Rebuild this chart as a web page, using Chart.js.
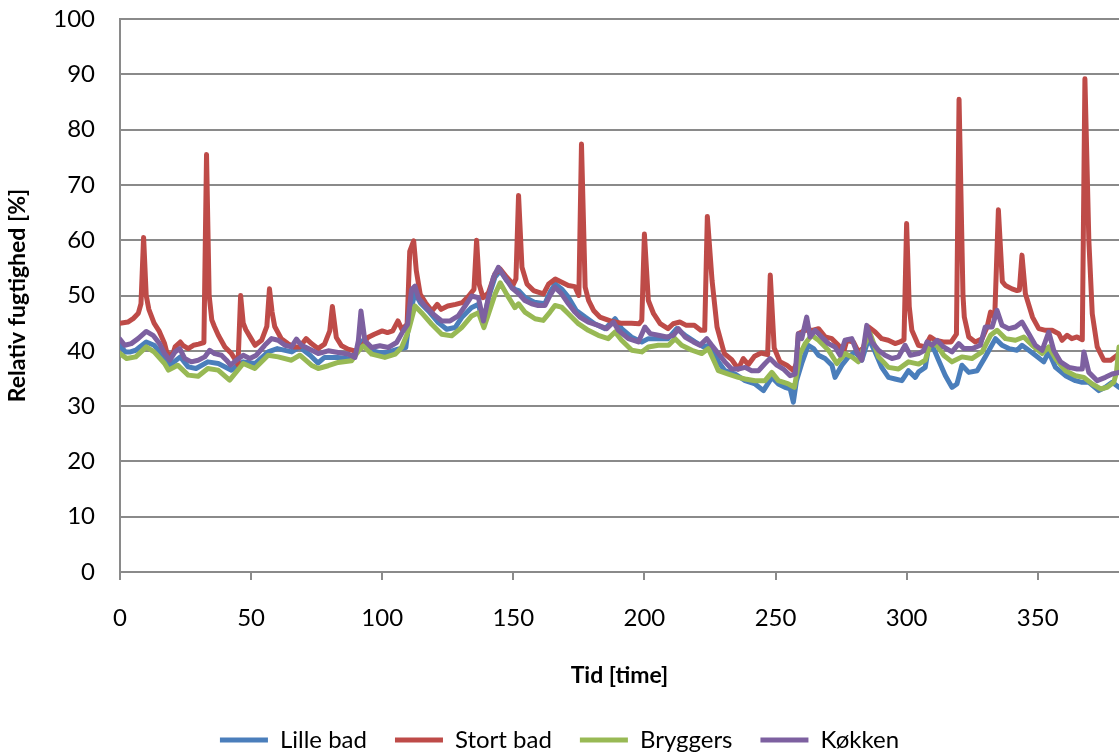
<!DOCTYPE html>
<html>
<head>
<meta charset="utf-8">
<script src="https://cdn.jsdelivr.net/npm/chart.js@4/dist/chart.umd.min.js"></script>
<style>
  html, body { margin: 0; padding: 0; background: #fff; }
</style>
</head>
<body>
<canvas id="chart" width="1119" height="756"></canvas>
<script>
// Relativ fugtighed, readings as [time, %]
const lilleBad = [[0,41],[2,39.8],[4,39.8],[6,40.1],[10,41.6],[13,41],[17,38.9],[19,37.4],[23,38.9],[26,37.1],[29,36.8],[33.5,38],[37.5,37.7],[42.5,36.5],[47,38],[51.5,37.7],[56.5,39.8],[60,40.4],[65.5,39.8],[68.5,40.7],[72.5,39.2],[75.5,37.8],[78,38.8],[83,38.8],[88,38.5],[91,40.6],[92.5,41.8],[94.5,40.3],[98.5,39.7],[102,39.7],[106,40.3],[109,40.6],[110.6,46.6],[112.5,50.5],[114.5,48.7],[117.6,47.2],[121.4,45.1],[124.6,43.9],[127.8,44.2],[130.3,46],[134,47.8],[136.7,48.4],[138.6,44.8],[140.5,49.6],[143,53.3],[145,54.5],[147.5,52.7],[150.6,51.1],[152,50.9],[154.4,49.7],[158,48.8],[162,48.5],[164,50.6],[166,52.1],[168.4,51.2],[171,49.7],[174,47.3],[177.4,46.1],[181,44.9],[185,44],[188.8,45.8],[191.3,44],[195,42.5],[199,41.6],[201.5,42.2],[205.3,42.2],[209,42.2],[212.3,44],[215.5,42.8],[219.3,41.6],[222.5,40.7],[224.4,41],[227,39.5],[228.2,38],[230.7,36.4],[234.6,35.8],[238.4,34.6],[242.2,34],[245.4,32.8],[248.6,35.2],[251.1,34],[253.6,33.4],[255.6,33.1],[256.8,30.7],[258,34.6],[260,37.7],[262.5,41],[264.5,40.4],[266.4,39.2],[268.9,38.6],[271.5,37.4],[272.7,35.2],[275.3,37.4],[277.8,38.9],[280.4,39.8],[282.9,38.3],[285.5,42.2],[288,39.8],[290.5,37],[293.1,35.2],[295.6,34.9],[298.2,34.6],[300.7,36.4],[303.3,35.2],[304.6,36.2],[307.1,37],[308.4,40.7],[310.3,40.4],[312.2,38.3],[314.8,35.5],[317.3,33.4],[319.2,34],[321.1,37.4],[323.7,36.1],[326.9,36.4],[330,38.9],[333.9,42.2],[336.4,41],[339,40.4],[342.1,40.1],[344,41],[346.6,40.1],[349.1,39.2],[352.3,38],[354.2,39.8],[356.8,37],[360.6,35.5],[364.4,34.6],[366.9,34.3],[369.5,34.3],[373.3,32.8],[375.8,33.4],[378.4,34.3],[381,33.4]];

const stortBad = [[0,45],[3,45.2],[5,45.8],[7,46.8],[8,48.5],[9,60.5],[10,50],[11,47.5],[13,45],[15,43.5],[17,41.3],[18,39.5],[20,39.2],[21,40.7],[23,41.6],[24,41],[26,40.4],[28,41],[30,41.2],[32,41.5],[33,75.5],[34,50],[35,45.6],[36,44.4],[37.5,42.8],[40,40.7],[42.5,39.5],[44.5,38],[45,37.5],[46,50],[47,45],[48,43.8],[50,42.2],[51.5,41],[54,41.9],[56,44.4],[57,51.2],[58,47],[59,44.4],[61.5,42.2],[64,41.3],[66.5,40.7],[68.5,40.7],[71,42.2],[73,41.3],[75.5,40.4],[78,41.2],[80,43.6],[81,48],[82.5,42.4],[84.5,40.9],[87,40.3],[89.5,40],[92,40.5],[94.5,42.4],[97,43],[100,43.6],[102,43.3],[104,43.6],[106,45.4],[107.5,43.9],[109.5,44.8],[110.5,58],[112,59.9],[113,54.5],[114.5,50.2],[116.5,48.7],[119,47.2],[121,48.4],[122.5,47.5],[125,48.1],[128,48.4],[130.5,48.7],[133,49.9],[135,51.1],[136,60],[137,52],[138.5,49.6],[140.5,50.5],[143,53.9],[145,54.8],[147.5,53.3],[150,52],[151,53],[152,68.1],[153.3,55.1],[155.2,52.1],[157.7,50.9],[161.5,50.3],[163.5,52.1],[166,53],[168.5,52.4],[171,51.8],[173.5,51.6],[175,50],[176,77.4],[177.4,51.5],[178.7,49.1],[180.6,47.3],[183,46.1],[187,45.4],[191,45],[195,45],[198,44.9],[199,45.5],[200,61.1],[201.5,49.1],[203.5,46.7],[206,44.9],[209,44],[211,44.9],[213.5,45.2],[216,44.6],[219,44.6],[221.5,43.7],[223,43.7],[224,64.3],[225.8,52.7],[227.7,44.3],[230.5,39.5],[233.3,38.4],[235.8,36.7],[237.7,38.6],[239.6,37.5],[242,39],[244.5,39.6],[247,39.3],[248,53.7],[249.5,40.5],[251.7,38],[254.3,37.4],[256.8,36.4],[258,37.7],[258.7,43.1],[261.3,43.7],[264,43.7],[266.4,44],[269,42.5],[271.5,42.2],[274,41],[276,39.8],[277.2,41.9],[279.7,41.6],[281.6,39.8],[283.5,40.5],[285.5,44.3],[288,43.4],[290.5,42.2],[293,41.9],[295.6,41.3],[297.5,41.6],[299,42],[300,63],[301,48],[302,43.7],[304.5,41],[307,40.7],[309,42.5],[311,41.9],[314,41.6],[317,41.6],[319,43],[320,85.5],[321.5,50],[322,46.1],[323.7,42.5],[326.2,41.6],[328.8,42.2],[330.7,44.3],[332,47],[333.6,46.1],[335,65.5],[336.5,52.5],[337.7,51.8],[340.2,51.2],[342.1,50.9],[343,51],[344,57.3],[345.3,50.3],[348,46.1],[350.4,44],[353,43.7],[355.5,43.7],[358,43.1],[359.3,41.9],[361.2,42.8],[363,42.2],[365,42.5],[367,42],[368,89.2],[369.5,60],[370.8,46.7],[372.7,40.7],[375.2,38.3],[377.8,38.3],[380.3,39.2],[381,39.5]];

const bryggers = [[0,39.5],[2.5,38.6],[6,38.9],[10,40.7],[13,39.8],[17,37.7],[18.5,36.5],[22,37.4],[26,35.6],[29.8,35.4],[33.5,36.8],[37.4,36.5],[41.8,34.7],[47,37.7],[51.4,36.8],[56.5,39.2],[60.3,38.9],[65.4,38.3],[68.6,39.2],[73,37.4],[75.6,36.8],[79.4,37.3],[83.2,37.9],[88.3,38.2],[91.5,40.3],[92.8,40.9],[96,39.4],[101,38.8],[105,39.4],[107.4,40.6],[110,43.6],[112.5,48.1],[115,46.9],[118.9,44.8],[122.7,43],[126.5,42.7],[130.3,44.2],[134.1,46.3],[136.7,46.9],[138.8,44.2],[140.5,46.6],[143,50.2],[145,52.3],[147.5,50.2],[150.6,47.8],[152,48.5],[154.4,47],[158.3,45.8],[161.4,45.5],[164,47],[165.9,48.2],[168.4,47.9],[171,46.7],[174.8,44.9],[178.6,43.7],[182.4,42.8],[186.2,42.2],[188.8,43.4],[191.3,41.9],[195.2,40.1],[199,39.8],[201.5,40.7],[205.3,41],[209.2,41],[211.7,42.2],[214.2,41],[218.1,40.1],[221.9,39.5],[224.4,40.4],[227,37.7],[228.2,36.4],[232,35.8],[235.8,35.2],[238.4,34.9],[242.2,34.6],[246,34.6],[248.6,36.1],[251.1,34.6],[254.9,34],[257.2,33.4],[259.4,39.5],[261.3,41.3],[263.8,42.8],[266.4,41.9],[270.2,40.1],[273.4,37.7],[276.5,39.5],[279.1,38.9],[281.6,38],[284.2,41.3],[286.1,43.1],[289.3,38.9],[293.1,37],[296.9,36.7],[300.7,38],[304.6,37.6],[307.1,38.3],[309,41.3],[311.6,41],[314.1,39.2],[317.3,38],[321.1,38.9],[324.9,38.6],[328.8,39.8],[332,42.8],[334.5,43.7],[337.7,42.2],[341.5,41.9],[344.7,42.5],[347.9,41],[351.7,39.5],[354.2,40.7],[356.8,38.6],[360.6,36.4],[364.4,35.5],[367.6,35.2],[370.8,34],[374,33.1],[376.5,33.4],[379,34.3],[380,36],[381,40.7]];

const koekken = [[0,42.1],[1.8,41],[4.3,41.3],[6.9,42.2],[10,43.5],[12.6,42.8],[15.1,41.3],[17,39.5],[19,38.3],[21,39.8],[22.8,40.4],[24.7,38.6],[27.2,38],[29.8,38.3],[32.3,38.9],[34.2,40.1],[36.1,39.5],[38.7,39.2],[40.6,38.3],[42.2,37.4],[44.4,38.3],[47,39.2],[49.5,38.6],[52,39.2],[55.2,41],[57.8,42.2],[60.3,41.9],[62.9,41],[65.4,40.7],[67.3,42.1],[69.2,41],[71.8,40.4],[75.6,39.5],[79.4,40],[83.2,39.7],[87,39.4],[89.6,38.8],[90.9,41.8],[91.9,47.2],[93.4,41.8],[96,40.6],[99.1,40.9],[102.3,40.6],[105.5,41.5],[108,43.6],[109.7,44.8],[111.2,51.1],[112.5,51.7],[113.8,49.6],[116.3,48.1],[119.5,46.6],[122.7,45.4],[125.9,45.4],[129,46.3],[131.6,48.1],[134.1,49.9],[136.7,49.6],[138.6,45.4],[140.5,49.6],[142.4,53.3],[144.3,55.1],[146.8,53.3],[149.4,51.4],[151.9,50.4],[154.4,49.1],[157,48.5],[159.5,48.2],[162.1,48.2],[164,50],[165.9,51.5],[168.4,50.3],[171,48.5],[173.5,47],[175.4,46.1],[178.6,45.2],[182.4,44.6],[185.6,44],[188.2,45.2],[190.1,43.7],[193.9,42.2],[197.7,41.6],[200.2,44.3],[202.2,43.1],[205.3,42.8],[208.5,42.5],[211.1,42.8],[213,44],[215.5,42.5],[218.7,41.6],[221.2,41],[223.8,42.2],[225.7,41],[228.2,39.5],[230.7,38],[233.3,36.7],[235.8,36.7],[238.4,37],[240.9,36.4],[243.5,36.4],[246,37.7],[247.9,38.6],[250.5,37.4],[253,36.7],[255.6,35.5],[257.5,35.8],[258.7,43.1],[260,42.2],[261.9,46.1],[263.2,42.5],[265.1,43.7],[267.6,42.5],[270.2,41.3],[272.7,40.7],[274.6,39.2],[276.5,41.9],[279.1,42.2],[281,39.8],[282.9,38.3],[284.8,44.6],[286.7,41.6],[289.3,40.1],[291.8,39.2],[294.4,38.6],[296.9,38.9],[299.4,41],[301.4,39.2],[304.6,39.5],[306.5,40],[307.8,41.6],[309.7,41],[311.6,41.9],[314.1,40.7],[317.3,39.8],[319.9,41.3],[321.8,40.4],[325,40.4],[328.1,41],[330,44.3],[332.6,44.3],[334.5,47.3],[336.4,44.6],[339,44],[341.5,44.3],[344,45.2],[346.6,43.1],[349.1,41],[351.7,40.1],[354.2,43.4],[356.1,40.1],[358.7,38],[361.9,37],[365,36.7],[367,36.7],[367.6,39.8],[369.5,36.1],[372.7,34.6],[375.8,35.2],[378.4,35.8],[381,36.1]];

const seriesNames = ['Lille bad', 'Stort bad', 'Bryggers', 'Køkken'];
const seriesData = [lilleBad, stortBad, bryggers, koekken];
const colors = ['#4A7EBB', '#BE4B48', '#98B954', '#7D60A0'];

const xTicks = [0, 50, 100, 150, 200, 250, 300, 350];
const yTicks = [0, 10, 20, 30, 40, 50, 60, 70, 80, 90, 100];

const GRID = '#8a8a8a';

Chart.defaults.font.family = 'Lato, "Liberation Sans", sans-serif';
Chart.defaults.color = '#000';

const datasets = seriesData.map((pts, i) => ({
    label: seriesNames[i],
    data: pts.map(p => ({ x: p[0], y: p[1] })),
    borderColor: colors[i],
    backgroundColor: colors[i],
    borderWidth: 5,
    borderCapStyle: 'round',
    borderJoinStyle: 'round',
    pointRadius: 0,
    pointStyle: 'line',
    order: seriesNames.length - i   // later series on top, like Excel
}));

new Chart(document.getElementById('chart'), {
    type: 'line',
    data: { datasets },
    options: {
        responsive: false,
        animation: false,
        layout: { padding: { top: 19, right: 0, left: 0, bottom: -6 } },
        plugins: {
            tooltip: { enabled: false },
            legend: {
                position: 'bottom',
                labels: {
                    usePointStyle: true,
                    pointStyleWidth: 48,
                    padding: 28,
                    font: { size: 24 },
                    color: '#000',
                    sort: (a, b) => a.datasetIndex - b.datasetIndex
                }
            }
        },
        scales: {
            x: {
                type: 'linear',
                min: 0,
                max: 381,
                afterBuildTicks: s => { s.ticks = xTicks.map(v => ({ value: v })); },
                afterFit: s => { s.height = 128; },
                grid: { drawOnChartArea: false, tickLength: 8, color: GRID, lineWidth: 2 },
                border: { color: GRID, width: 2 },
                ticks: { font: { size: 24 }, padding: 24, maxRotation: 0 },
                title: { display: true, text: 'Tid [time]', font: { size: 23, weight: 'bold' }, padding: { top: 4, bottom: 11 } }
            },
            y: {
                min: 0,
                max: 100,
                afterBuildTicks: s => { s.ticks = yTicks.map(v => ({ value: v })); },
                afterFit: s => { s.width = 120; },
                grid: { color: GRID, lineWidth: 2, tickLength: 22, tickColor: 'rgba(0,0,0,0)' },
                border: { color: GRID, width: 2 },
                ticks: { font: { size: 24 }, padding: 3 },
                title: { display: true, text: 'Relativ fugtighed [%]', font: { size: 23, weight: 'bold' }, padding: { top: 4, bottom: 4 } }
            }
        }
    }
});
</script>
</body>
</html>
